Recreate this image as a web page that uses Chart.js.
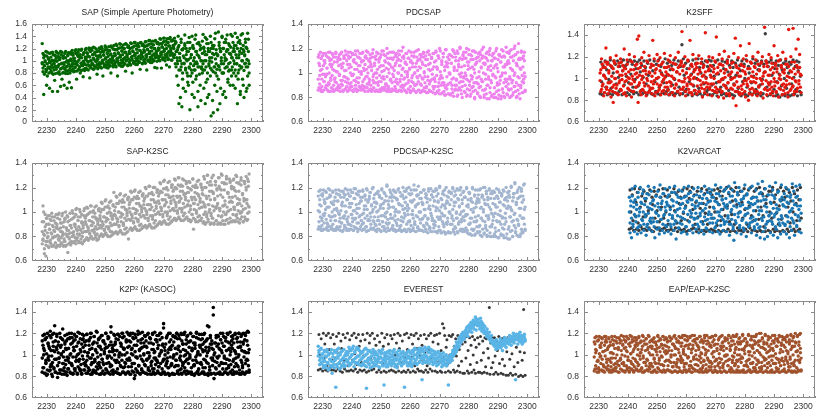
<!DOCTYPE html>
<html><head><meta charset="utf-8">
<script src="https://cdn.jsdelivr.net/npm/chart.js@4.4.1/dist/chart.umd.min.js"></script>
<style>
html,body{margin:0;padding:0;background:#fff;}
body{width:830px;height:415px;position:relative;overflow:hidden;}
.pane{position:absolute;}
</style></head><body>
<div id="wrap"></div>
<script>
// ---- time base (BJD - 2454833) ----
const days=[
2228.5,2228.75,2229,2229.25,2229.5,2229.75,2230,2230.25,2230.5,2230.75,2231,2231.25,2231.5,2231.75,2232,2232.25,2232.5,2232.75,2233,2233.25,
2233.5,2233.75,2234,2234.25,2234.5,2234.75,2235,2235.25,2235.5,2235.75,2236,2236.25,2236.5,2236.75,2237,2237.25,2237.5,2237.75,2238,2238.25,
2238.5,2238.75,2239,2239.25,2239.5,2239.75,2240,2240.25,2240.5,2240.75,2241,2241.25,2241.5,2241.75,2242,2242.25,2242.5,2242.75,2243,2243.25,
2243.5,2243.75,2244,2244.25,2244.5,2244.75,2245,2245.25,2245.5,2245.75,2246,2246.25,2246.5,2246.75,2247,2247.25,2247.5,2247.75,2248,2248.25,
2248.5,2248.75,2249,2249.25,2249.5,2249.75,2250,2250.25,2250.5,2250.75,2251,2251.25,2251.5,2251.75,2252,2252.25,2252.5,2252.75,2253,2253.25,
2253.5,2253.75,2254,2254.25,2254.5,2254.75,2255,2255.25,2255.5,2255.75,2256,2256.25,2256.5,2256.75,2257,2257.25,2257.5,2257.75,2258,2258.25,
2258.5,2258.75,2259,2259.25,2259.5,2259.75,2260,2260.25,2260.5,2260.75,2261,2261.25,2261.5,2261.75,2262,2262.25,2262.5,2262.75,2263,2263.25,
2263.5,2263.75,2264,2264.25,2264.5,2264.75,2265,2265.25,2265.5,2265.75,2266,2266.25,2266.5,2266.75,2267,2267.25,2267.5,2267.75,2268,2268.25,
2268.5,2268.75,2269,2269.25,2269.5,2269.75,2270,2270.25,2270.5,2270.75,2271,2271.25,2271.5,2271.75,2272,2272.25,2272.5,2272.75,2273,2273.25,
2273.5,2273.75,2274,2274.25,2274.5,2274.75,2275,2275.25,2275.5,2275.75,2276,2276.25,2276.5,2276.75,2277,2277.25,2277.5,2277.75,2278,2278.25,
2278.5,2278.75,2279,2279.25,2279.5,2279.75,2280,2280.25,2280.5,2280.75,2281,2281.25,2281.5,2281.75,2282,2282.25,2282.5,2282.75,2283,2283.25,
2283.5,2283.75,2284,2284.25,2284.5,2284.75,2285,2285.25,2285.5,2285.75,2286,2286.25,2286.5,2286.75,2287,2287.25,2287.5,2287.75,2288,2288.25,
2288.5,2288.75,2289,2289.25,2289.5,2289.75,2290,2290.25,2290.5,2290.75,2291,2291.25,2291.5,2291.75,2292,2292.25,2292.5,2292.75,2293,2293.25,
2293.5,2293.75,2294,2294.25,2294.5,2294.75,2295,2295.25,2295.5,2295.75,2296,2296.25,2296.5,2296.75,2297,2297.25,2297.5,2297.75,2298,2298.25,
2298.5,2298.75,2299,2299.25];

// ---- tick labels ----
const xTicks=[2230,2240,2250,2260,2270,2280,2290,2300];
const yTicksSAP=[0,0.2,0.4,0.6,0.8,1,1.2,1.4,1.6];
const yTicksStd=[0.6,0.8,1,1.2,1.4];

// ---- SAP ----
const sapA=[
1.28,1.12,0.45,0.92,1.08,0.82,0.6,1.14,0.88,1.02,0.55,0.97,1.13,0.8,0.5,1.1,0.85,1.0,0.79,1.15,
0.9,0.5,1.12,0.82,1.05,0.58,0.95,1.14,0.8,1.08,0.6,0.88,1.15,0.83,1.0,0.79,1.13,0.65,0.92,1.11,
0.56,1.17,0.86,1.04,0.83,1.16,0.95,0.7,1.1,0.85,1.18,0.9,1.05,0.84,1.19,0.92,0.74,1.13,0.87,1.02,
1.2,0.86,1.07,0.93,1.21,0.72,1.0,0.88,1.17,0.95,1.22,0.87,1.11,0.9,1.19,0.78,1.04,0.89,1.21,0.96,
0.9,1.23,1.0,0.75,1.15,0.92,1.24,1.05,0.89,1.18,0.97,1.23,0.91,1.1,0.8,1.22,1.02,0.93,1.25,1.08,
0.92,1.27,1.03,0.75,1.2,0.95,1.28,1.09,0.91,1.22,1.0,1.26,0.94,1.14,0.83,1.27,1.06,0.93,1.24,1.12,
0.95,1.29,1.06,0.8,1.22,0.98,1.3,1.12,0.94,1.25,1.03,1.28,0.97,1.17,0.86,1.3,1.09,0.96,1.27,1.14,
0.98,1.31,1.09,0.85,1.25,1.01,1.33,1.15,0.97,1.28,1.05,1.32,1.0,1.2,0.89,1.33,1.11,0.99,1.3,1.17,
1.01,1.36,1.12,0.88,1.28,1.04,1.37,1.19,1.0,1.32,1.08,1.36,1.02,1.24,0.9,1.38,1.14,1.01,1.34,1.22,
1.05,1.37,0.95,1.3,0.75,1.18,1.4,0.3,1.05,0.85,1.35,0.25,0.7,1.2,0.95,1.42,0.5,1.1,0.8,1.3,
0.6,1.38,0.2,1.05,0.85,1.4,0.65,1.2,0.4,0.95,1.42,0.75,1.1,0.5,1.3,0.9,1.25,0.35,1.0,0.8,
1.43,0.55,1.15,0.3,0.9,1.35,0.7,1.2,0.45,1.0,1.4,0.1,0.85,1.25,0.15,1.1,0.6,1.45,0.95,0.75,
0.2,1.47,0.9,1.2,0.55,1.05,1.38,0.45,0.8,1.3,1.0,0.4,1.15,1.42,0.7,0.95,1.25,0.6,1.1,0.85,
1.4,0.6,1.2,0.95,1.45,0.75,1.05,0.3,1.3,0.85,1.15,0.5,1.42,1.0,0.7,1.25,0.4,1.1,1.35,0.9,
0.55,1.45,1.0,0.8];
const sapB=[
0.95,0.82,1.1,0.78,0.98,1.15,0.85,0.75,1.05,0.8,1.12,0.9,0.83,1.0,1.14,0.78,0.95,0.68,1.08,0.86,
1.13,0.8,0.92,1.02,0.78,1.15,0.87,0.7,1.06,0.81,0.97,1.12,0.79,0.9,0.55,1.1,0.84,1.0,0.8,1.14,
0.84,0.95,1.12,0.82,1.0,0.9,1.18,0.83,0.98,1.14,0.86,1.06,0.8,1.17,0.93,0.85,1.1,0.97,0.84,1.18,
0.88,1.13,0.99,0.85,1.18,1.06,0.89,1.2,0.94,1.1,0.86,1.02,1.21,0.9,0.99,1.15,0.87,1.08,0.93,1.2,
1.14,0.88,1.2,0.97,1.09,0.9,1.03,1.22,0.93,1.12,0.88,1.0,1.16,0.92,1.24,0.98,1.07,0.9,1.19,0.95,
1.18,0.9,1.25,1.0,1.12,0.93,1.06,1.27,0.96,1.16,0.91,1.03,1.2,0.95,1.28,1.01,1.1,0.92,1.22,0.98,
1.2,0.93,1.28,1.03,1.15,0.96,1.09,1.3,0.99,1.19,0.94,1.06,1.23,0.98,1.29,1.04,1.13,0.95,1.25,1.01,
1.23,0.96,1.31,1.06,1.18,0.99,1.12,1.33,1.02,1.22,0.97,1.09,1.26,1.0,1.32,1.07,1.16,0.88,1.28,1.04,
1.27,1.0,1.35,1.1,1.22,1.02,1.15,1.37,1.05,1.26,0.93,1.12,1.3,1.03,1.36,1.1,1.2,1.01,1.33,1.08,
1.25,1.1,1.32,0.9,1.15,1.0,0.6,1.25,1.12,0.4,1.3,0.95,1.18,0.55,1.05,1.28,0.85,1.2,1.0,0.65,
1.15,0.9,1.3,0.75,1.1,0.45,1.22,1.0,0.85,1.35,0.7,1.15,0.95,0.25,1.28,1.05,0.6,1.2,0.9,1.32,
0.85,1.2,1.0,1.38,0.65,1.1,0.4,1.28,0.95,1.15,0.75,1.3,1.05,0.35,1.2,0.9,1.36,0.8,1.12,0.5,
1.1,0.7,1.3,0.3,1.15,0.95,1.4,0.8,1.2,0.5,1.05,1.35,0.9,1.18,0.65,1.28,0.85,1.12,1.43,0.75,
1.05,1.3,0.8,1.15,0.55,1.25,0.95,1.38,0.7,1.1,1.33,0.45,1.2,0.9,1.44,0.6,1.15,0.95,1.3,0.5,
1.2,0.75,1.35,0.6];
const sapC=[
0.97,0.88,1.05,0.92,1.0,0.86,1.08,0.95,0.9,1.03,0.98,0.87,1.06,0.93,1.01,0.89,0.96,1.09,0.91,1.04,
0.99,0.9,1.07,0.94,1.02,0.87,1.1,0.96,0.89,1.04,0.93,0.86,1.05,0.98,0.91,1.08,0.95,1.0,0.88,1.03,
1.0,0.91,1.09,0.95,1.04,0.89,1.12,0.98,0.93,1.07,1.01,0.9,1.1,0.96,1.05,0.92,0.99,1.13,0.94,1.06,
1.03,0.93,1.12,0.98,1.07,0.91,1.15,1.0,0.95,1.1,1.04,0.92,1.14,0.99,1.08,0.94,1.02,1.16,0.97,1.09,
1.06,0.96,1.15,1.01,1.1,0.94,1.18,1.03,0.98,1.13,1.07,0.95,1.17,1.02,1.11,0.97,1.05,1.19,1.0,1.12,
1.09,0.98,1.18,1.04,1.13,0.96,1.21,1.06,1.01,1.16,1.1,0.97,1.2,1.05,1.14,1.0,1.08,1.22,1.03,1.15,
1.12,1.01,1.21,1.07,1.16,0.99,1.24,1.09,1.04,1.19,1.13,1.0,1.23,1.08,1.17,1.03,1.11,1.25,1.06,1.18,
1.15,1.03,1.24,1.1,1.19,1.01,1.27,1.12,1.06,1.22,1.16,1.02,1.26,1.11,1.2,1.05,1.14,1.28,1.08,1.21,
1.19,1.07,1.28,1.14,1.23,1.05,1.31,1.16,1.1,1.26,1.2,1.06,1.3,1.15,1.24,1.09,1.18,1.32,1.12,1.25,
1.2,1.1,1.28,1.15,1.05,0.95,1.22,0.85,1.12,1.0,0.9,1.18,0.8,1.08,0.96,1.25,0.88,1.02,1.15,0.75,
1.02,0.88,1.2,0.95,1.1,0.8,1.25,0.92,1.05,0.85,1.15,0.98,1.28,0.9,1.08,0.78,1.18,1.0,0.87,1.12,
0.95,1.22,0.85,1.1,1.0,1.28,0.8,1.15,0.92,1.05,0.88,1.2,0.98,1.12,0.82,1.25,0.9,1.03,1.18,0.86,
1.08,0.92,1.25,0.85,1.15,1.0,0.8,1.2,0.95,1.1,0.88,1.3,1.02,0.9,1.18,0.83,1.12,0.97,1.22,1.05,
0.9,1.15,1.0,1.25,0.85,1.1,0.95,1.2,0.8,1.05,0.92,1.28,0.88,1.12,1.0,1.18,0.84,1.08,0.96,1.22,
1.02,0.9,1.15,0.95];

// ---- PDCSAP ----
const pdcA=[
0.86,1.15,0.98,0.87,1.12,1.03,0.85,1.16,0.93,1.08,0.88,1.14,0.99,0.86,1.17,0.91,1.1,0.85,1.05,1.16,
0.87,1.13,0.95,0.86,1.16,1.01,0.88,1.11,0.9,1.15,0.85,1.07,1.17,0.94,0.86,1.12,1.02,0.87,1.15,0.96,
0.85,1.17,1.04,0.88,1.13,0.92,0.86,1.16,0.99,1.09,0.87,1.15,0.93,0.85,1.18,1.06,0.89,1.12,0.86,1.01,
1.16,0.87,1.1,0.95,0.85,1.14,1.03,0.88,1.17,0.91,0.86,1.12,1.07,0.85,1.16,0.97,0.88,1.13,1.0,0.86,
1.17,0.92,0.85,1.11,1.05,0.87,1.15,0.96,0.86,1.18,1.02,0.88,1.14,0.9,0.85,1.16,1.08,0.87,1.12,0.94,
0.85,1.17,0.99,0.86,1.13,1.06,0.87,1.16,0.92,0.85,1.11,1.15,0.95,0.86,1.18,1.03,0.88,1.14,0.9,1.09,
0.85,1.16,0.97,0.87,1.12,1.04,0.84,1.17,0.93,1.08,0.86,1.14,1.0,0.85,1.18,0.91,1.1,0.86,1.05,1.15,
0.84,1.13,0.96,0.86,1.16,1.01,0.85,1.11,0.89,1.17,0.84,1.07,1.15,0.93,0.85,1.12,1.03,0.84,1.16,0.95,
0.83,1.17,1.05,0.85,1.14,0.92,0.83,1.18,0.98,1.09,0.84,1.16,0.9,0.82,1.19,1.06,0.87,1.13,0.83,1.0,
1.15,0.82,1.08,0.95,0.84,1.18,1.02,0.86,1.13,0.9,0.81,1.16,1.05,0.88,1.2,0.97,0.83,1.11,0.93,1.17,
0.85,1.0,1.17,0.81,1.09,0.94,1.19,0.86,1.04,0.83,1.14,0.97,0.89,1.18,0.8,1.07,1.12,0.92,0.84,1.16,
1.01,0.81,1.15,0.95,1.19,0.86,1.08,0.8,1.13,0.99,0.83,1.17,0.9,1.05,0.79,1.2,0.94,1.1,0.82,1.16,
0.8,1.12,0.97,1.18,0.85,1.04,0.79,1.15,0.91,1.09,0.81,1.19,1.0,0.84,1.14,0.8,1.07,0.93,1.17,0.82,
1.1,0.86,1.18,0.95,0.81,1.13,1.02,0.84,1.2,0.89,1.15,0.8,1.06,0.97,1.24,0.83,1.11,0.88,1.17,0.93,
0.84,1.14,1.0,0.86];
const pdcB=[
1.13,0.88,1.06,1.17,0.85,0.95,1.14,0.86,1.1,0.99,1.16,0.87,1.04,0.9,0.85,1.12,1.17,0.96,0.88,1.07,
1.15,0.85,1.02,0.93,1.17,0.87,1.09,0.86,1.13,0.98,0.88,1.16,0.91,1.05,0.85,1.14,0.97,1.18,0.87,1.1,
0.92,1.14,0.86,1.07,1.17,0.89,0.98,1.15,0.85,1.11,0.94,1.18,0.87,1.03,0.86,1.13,0.96,1.16,0.88,1.09,
0.9,1.17,0.86,1.02,1.13,0.88,1.18,0.97,0.85,1.1,0.93,1.15,0.87,1.05,0.86,1.19,0.92,1.08,0.85,1.14,
1.0,0.86,1.16,0.93,1.12,0.85,1.06,1.18,0.88,0.97,1.15,0.86,1.09,0.91,1.2,0.87,1.03,0.85,1.17,0.95,
1.12,0.87,1.04,1.17,0.86,0.93,1.15,0.85,1.1,1.0,1.18,0.86,1.06,0.89,0.85,1.13,1.21,0.95,0.86,1.08,
1.16,0.84,1.01,0.92,1.18,0.86,1.09,0.85,1.14,0.98,0.87,1.17,0.9,1.05,0.84,1.13,0.96,1.19,0.86,1.11,
0.91,1.15,0.85,1.07,1.17,0.88,0.97,1.14,0.84,1.11,0.94,1.18,0.86,1.02,0.85,1.13,0.95,1.16,0.87,1.09,
0.89,1.18,0.84,1.03,1.14,0.86,1.2,0.96,0.83,1.1,0.92,1.16,0.85,1.05,0.82,1.19,0.9,1.08,0.83,1.15,
0.99,0.83,1.14,0.9,1.19,0.81,1.05,1.16,0.87,0.95,1.18,0.82,1.1,0.92,1.21,0.86,1.0,0.8,1.15,0.96,
1.12,0.84,0.98,1.2,0.82,1.06,1.15,0.9,0.81,1.11,0.95,1.18,0.85,1.03,0.79,1.17,0.92,1.09,0.83,1.13,
0.88,1.17,0.8,1.04,1.12,0.93,1.21,0.82,1.07,0.87,1.16,0.79,1.1,0.95,1.18,0.84,1.02,0.81,1.14,0.98,
1.16,0.83,1.06,0.8,1.2,0.92,1.11,0.82,1.15,0.97,0.79,1.13,0.87,1.18,0.81,1.05,0.95,1.21,0.83,1.09,
0.87,1.16,0.8,1.04,1.19,0.92,0.82,1.14,0.98,1.22,0.85,1.08,0.81,1.17,0.9,1.12,0.79,1.03,1.18,0.84,
1.12,0.95,1.17,0.85];
const pdcC=[
0.95,1.08,0.91,1.02,1.12,0.89,0.99,1.06,0.93,1.1,0.97,0.9,1.04,1.13,0.92,1.0,1.07,0.94,1.11,0.98,
1.03,0.9,1.09,0.96,1.13,0.92,1.01,0.88,1.06,0.99,1.11,0.94,1.04,0.9,1.08,0.97,1.12,0.93,1.02,0.89,
1.07,0.95,1.12,0.91,1.0,1.05,0.89,0.98,1.1,0.94,1.03,0.9,1.08,0.96,1.13,0.92,1.01,1.06,0.88,0.99,
1.1,0.93,1.04,0.89,1.07,0.97,1.12,0.91,1.0,1.05,0.95,1.09,0.9,1.02,1.13,0.94,0.99,1.06,0.92,1.11,
0.96,1.03,0.9,1.09,0.98,1.13,0.93,1.01,0.88,1.06,0.95,1.1,0.91,1.04,0.97,1.12,0.89,1.0,1.07,0.94,
1.05,0.92,1.11,0.97,1.02,0.89,1.08,0.95,1.13,0.91,1.0,1.06,0.93,1.1,0.98,0.9,1.04,1.12,0.96,1.01,
0.91,1.07,0.99,1.12,0.94,1.03,0.89,1.1,0.96,1.05,0.92,1.13,1.0,0.9,1.08,0.97,1.02,0.93,1.11,0.98,
1.04,0.9,1.09,0.95,1.13,1.0,0.92,1.06,0.88,1.11,0.97,1.03,0.91,1.08,0.94,1.12,0.99,0.89,1.05,0.96,
0.93,1.1,0.98,1.04,0.89,1.12,0.95,1.01,0.9,1.07,0.96,1.13,0.92,1.02,0.88,1.09,0.97,1.05,0.91,1.11,
1.0,0.92,1.08,0.87,1.13,0.96,1.04,0.9,1.1,0.94,1.02,0.86,1.07,0.99,1.12,0.93,1.05,0.89,1.14,0.97,
1.06,0.9,1.12,0.95,0.87,1.03,1.09,0.93,1.15,0.98,0.88,1.05,1.11,0.92,1.0,0.86,1.08,0.96,1.13,0.91,
0.97,1.1,0.89,1.05,0.93,1.14,1.0,0.86,1.08,0.95,1.12,0.9,1.03,0.97,1.15,0.88,1.06,0.92,1.1,0.99,
1.04,0.88,1.12,0.96,1.07,0.9,1.01,0.86,1.14,0.94,1.09,0.98,0.87,1.05,0.92,1.13,1.0,0.89,1.07,0.95,
0.91,1.08,0.97,1.13,0.87,1.03,0.94,1.1,0.89,1.0,1.15,0.92,1.06,0.86,1.11,0.96,1.04,0.9,1.12,0.98,
1.05,0.92,1.1,0.97];

// ---- K2SFF (from 2230.5) ----
const sffBlack=[
0.86,1.15,0.97,0.85,1.12,1.03,0.87,1.16,0.92,1.08,0.85,1.14,
0.99,0.86,1.17,0.91,1.1,0.85,1.05,1.16,0.87,1.13,0.95,0.86,1.16,1.01,0.88,1.11,0.9,1.15,0.85,1.07,
1.17,0.94,0.86,1.12,1.02,0.87,1.15,0.96,0.85,1.17,1.04,0.88,1.13,0.92,0.86,1.16,0.99,1.09,0.87,1.15,
0.93,0.85,1.17,1.06,0.89,1.12,0.86,1.01,1.16,0.87,1.1,0.95,0.85,1.14,1.03,0.88,1.17,0.91,0.86,1.12,
1.07,0.85,1.16,0.97,0.88,1.13,1.0,0.86,1.17,0.92,0.85,1.11,1.05,0.87,1.15,0.96,0.86,1.18,1.02,0.88,
1.14,0.9,0.85,1.16,1.08,0.87,1.12,0.94,0.85,1.17,0.99,0.86,1.13,1.06,0.87,1.16,0.92,0.85,1.11,1.15,
1.31,0.86,1.18,1.03,0.88,1.14,0.9,1.09,0.85,1.16,0.97,0.87,1.12,1.04,0.84,1.17,0.93,1.08,0.86,1.14,
1.0,0.85,1.18,0.91,1.1,0.86,1.05,1.15,0.84,1.13,0.95,0.86,1.16,1.01,0.88,1.11,0.9,1.17,0.85,1.07,
1.16,0.94,0.85,1.12,1.02,0.87,1.15,0.96,0.84,1.17,1.04,0.88,1.13,0.92,0.85,1.16,0.99,1.09,0.86,1.15,
0.93,0.84,1.17,1.06,0.89,1.12,0.86,1.01,1.16,0.85,1.1,0.95,0.84,1.14,1.03,0.88,1.17,0.91,0.86,1.12,
1.07,0.84,1.16,0.97,0.86,1.13,1.0,0.85,1.17,0.92,0.84,1.11,1.05,0.87,1.15,0.96,0.85,1.18,1.02,0.87,
1.14,0.9,0.85,1.16,1.08,0.86,1.12,0.94,0.84,1.16,0.99,0.86,1.13,1.06,1.41,1.16,0.92,0.84,1.11,1.15,
0.95,0.85,1.17,1.03,0.87,1.14,0.9,1.09,0.84,1.16,0.97,0.85,1.12,1.04,0.83,1.17,0.93,1.08,0.85,1.14,
1.0,0.84,1.16,0.91,1.1,0.85,1.05,1.15,0.84,1.13,0.95,0.85,1.17,1.01,0.86,1.11,0.9,1.16,0.84,1.07,
1.15,0.88,1.02,0.85];
const sffRed=[
1.05,0.88,1.18,0.93,1.1,0.84,1.02,1.15,1.28,0.9,1.13,0.86,
1.07,0.96,1.19,0.83,1.11,0.92,0.78,1.16,1.0,0.87,1.21,0.94,1.06,0.85,1.14,0.98,1.18,0.89,1.03,1.12,
0.86,1.27,0.97,1.09,0.84,1.17,1.01,0.9,1.22,0.95,1.08,0.83,1.15,0.99,0.88,1.2,1.04,0.92,1.13,1.36,
0.78,1.39,0.96,1.1,0.85,1.19,1.02,0.89,1.24,0.93,1.07,0.84,1.16,0.98,0.87,1.21,1.05,0.91,1.13,0.86,
1.35,0.95,1.18,0.84,1.08,1.0,1.22,0.88,1.12,0.93,1.19,0.85,1.04,0.97,1.15,0.89,1.23,1.01,0.86,1.1,
0.92,1.17,1.03,0.85,1.21,0.96,1.09,0.87,1.14,1.0,0.84,1.19,0.94,1.06,0.88,1.24,0.98,1.12,0.86,1.16,
1.43,0.9,1.11,0.97,1.2,0.84,1.05,0.93,1.17,1.01,0.87,1.35,0.95,1.13,0.85,1.22,1.0,0.89,1.08,1.18,
0.86,1.14,0.99,1.21,0.88,1.06,0.94,1.18,0.83,1.1,1.03,0.9,1.42,0.96,1.16,0.85,1.07,1.2,0.92,1.12,
1.01,0.84,1.19,0.95,1.09,0.88,1.15,1.38,0.9,1.05,0.83,1.22,0.97,1.13,0.87,1.18,1.0,0.82,1.25,0.93,
1.08,0.86,1.16,0.96,1.2,0.84,1.04,0.91,1.14,1.0,0.82,1.23,0.94,1.37,0.75,1.1,0.88,1.19,1.02,0.85,
1.3,0.93,1.12,0.86,1.18,0.98,1.06,0.83,1.21,0.95,1.09,0.8,1.32,0.9,1.15,1.02,0.85,1.2,0.97,1.11,
0.87,1.17,1.0,0.84,1.24,0.93,1.08,0.86,1.14,0.98,1.2,0.82,1.05,1.47,0.91,1.16,0.85,1.11,0.96,1.22,
1.03,0.86,1.19,0.92,1.1,0.84,1.3,0.97,1.14,0.88,1.06,1.21,0.83,1.0,1.17,0.9,1.12,0.85,1.24,0.95,
1.08,0.86,1.18,0.94,1.13,0.83,1.45,1.01,0.89,1.2,1.06,0.92,1.46,0.85,1.15,0.98,1.27,0.88,1.1,1.36,
0.95,1.22,1.04,0.87];
const sffRed2=[
0.98,1.08,0.9,1.13,0.95,1.03,0.87,1.1,1.0,0.92,1.15,0.96,
1.05,0.89,1.12,0.97,1.02,0.88,1.09,0.94,1.14,1.0,0.91,1.06,0.86,1.11,0.96,1.03,0.9,1.15,0.99,1.07,
0.93,1.1,0.87,1.04,0.98,1.13,0.91,1.06,1.0,0.89,1.16,0.95,1.02,0.88,1.08,0.97,1.12,0.92,1.05,1.01,
1.09,0.94,1.03,0.88,1.14,0.99,0.9,1.07,0.96,1.11,0.87,1.04,1.0,1.15,0.93,1.06,0.89,1.1,0.97,1.02,
0.91,1.12,0.98,1.05,0.87,1.09,0.95,1.16,1.01,0.9,1.07,0.94,1.13,0.88,1.03,0.99,1.1,0.92,1.06,0.96,
1.04,0.89,1.11,0.97,1.15,0.93,1.02,0.87,1.08,1.0,0.91,1.13,0.95,1.06,0.88,1.1,0.98,1.04,0.9,1.14,
0.97,1.07,0.92,1.12,1.0,0.88,1.05,0.95,1.16,0.9,1.09,0.99,1.03,0.87,1.11,0.94,1.06,1.01,0.89,1.13,
1.1,0.93,1.04,0.88,1.08,0.98,1.14,0.91,1.02,0.96,1.12,0.87,1.06,1.0,0.92,1.15,0.95,1.09,0.9,1.03,
0.95,1.11,0.89,1.06,1.0,1.16,0.92,1.04,0.87,1.1,0.97,1.13,0.9,1.07,0.99,0.88,1.12,0.94,1.05,1.01,
1.08,0.91,1.14,0.96,1.03,0.86,1.1,0.99,1.06,0.9,1.15,0.94,1.01,0.88,1.12,0.97,1.05,0.92,1.09,0.87,
1.02,1.13,0.9,1.07,0.95,1.11,0.88,1.04,0.98,1.16,0.93,1.0,0.86,1.09,0.97,1.14,0.91,1.06,1.01,0.89,
1.1,0.96,1.04,0.88,1.13,0.92,1.07,1.0,0.87,1.15,0.95,1.02,1.11,0.9,1.06,0.98,1.14,0.89,1.03,0.94,
0.9,1.08,0.97,1.14,0.88,1.05,1.0,0.93,1.12,0.87,1.09,0.96,1.16,0.91,1.03,0.99,1.1,0.94,1.06,0.89,
1.05,0.92,1.13,0.98,1.02,0.87,1.11,0.95,1.07,0.9,1.15,1.0,0.93,1.09,0.88,1.04,0.97,1.12,0.91,1.06,
0.98,1.1,0.92,1.03];

// ---- SAP-K2SC ----
const skA=[
0.74,1.05,0.82,0.66,0.98,0.73,0.9,0.76,0.97,0.71,0.86,0.94,0.74,0.99,0.79,0.72,0.93,0.84,0.75,0.98,
0.72,0.95,0.78,0.99,0.73,0.87,0.74,0.97,0.81,0.72,0.92,0.76,1.0,0.73,0.85,0.96,0.74,0.79,0.99,0.73,
0.76,1.01,0.83,0.75,0.96,0.88,0.74,1.03,0.79,0.93,0.76,1.02,0.86,0.75,0.98,0.8,0.91,0.76,1.03,0.84,
0.78,1.04,0.88,0.77,0.99,0.83,0.79,1.05,0.92,0.78,1.01,0.86,0.96,0.79,1.05,0.82,0.94,0.78,1.03,0.89,
0.81,1.08,0.92,0.8,1.02,0.86,0.82,1.1,0.95,0.81,1.05,0.88,1.0,0.8,1.09,0.84,0.97,0.82,1.16,0.9,
0.83,1.13,0.95,0.82,1.07,0.89,0.84,1.15,0.99,0.83,1.1,0.91,1.04,0.82,1.14,0.87,1.01,0.84,1.12,0.94,
0.86,1.17,0.98,0.85,1.1,0.92,0.87,1.18,1.02,0.86,1.13,0.94,1.07,0.85,1.17,0.9,1.04,0.87,1.15,0.97,
0.88,1.2,1.01,0.87,1.13,0.95,0.89,1.21,1.06,0.88,1.16,0.97,1.1,0.87,1.2,0.93,1.08,0.89,1.18,1.0,
0.91,1.24,1.04,0.9,1.16,0.98,0.92,1.26,1.1,0.91,1.2,1.0,1.14,0.9,1.25,0.96,1.12,0.92,1.22,1.03,
0.94,1.27,1.08,0.93,1.19,1.01,0.95,1.28,1.13,0.94,1.22,1.03,1.17,0.93,1.26,0.99,1.15,0.95,1.24,1.06,
0.93,1.25,1.05,0.92,1.18,0.98,1.27,0.86,1.12,0.94,1.22,1.01,1.15,0.92,1.26,0.97,1.09,0.93,1.2,1.04,
0.91,1.29,1.06,0.9,1.2,0.98,1.3,0.92,1.13,1.02,1.25,0.91,1.17,0.95,1.3,0.9,1.1,1.22,0.93,1.05,
0.9,1.28,1.03,1.19,0.91,1.31,0.97,1.12,0.9,1.24,1.06,0.93,1.29,1.0,1.16,0.91,1.27,0.95,1.09,1.21,
0.92,1.26,1.04,1.18,0.93,1.3,0.98,1.11,0.92,1.23,1.07,0.94,1.28,1.0,1.15,0.92,1.25,0.96,1.1,1.29,
0.93,1.27,1.05,1.31];
const skB=[
0.92,0.77,1.0,0.7,0.85,0.64,0.95,0.79,0.72,0.9,0.97,0.75,0.83,0.72,0.96,0.88,0.73,0.8,0.91,0.71,
0.88,0.73,0.98,0.8,0.72,0.91,0.75,0.84,0.99,0.73,0.78,0.94,0.72,0.87,0.97,0.67,0.82,0.93,0.75,0.89,
0.94,0.75,0.99,0.81,0.76,0.9,1.02,0.77,0.85,0.96,0.75,0.82,1.0,0.78,0.92,0.74,0.87,1.01,0.77,0.95,
0.97,0.79,1.03,0.85,0.78,0.93,1.05,0.8,0.89,1.0,0.78,0.84,1.04,0.81,0.95,0.77,0.9,1.02,0.8,0.97,
1.0,0.82,1.07,0.89,0.81,0.96,1.09,0.83,0.93,1.04,0.8,0.87,1.08,0.84,0.99,0.81,0.94,1.06,0.83,1.01,
1.04,0.84,1.12,0.92,0.83,1.0,1.14,0.85,0.96,1.08,0.82,0.9,1.13,0.86,1.02,0.83,0.97,1.11,0.78,1.06,
1.08,0.87,1.16,0.95,0.86,1.03,1.17,0.88,0.99,1.11,0.85,0.93,1.16,0.89,1.05,0.86,1.0,1.14,0.88,1.09,
1.11,0.89,1.19,0.98,0.88,1.06,1.21,0.9,1.02,1.15,0.87,0.96,1.2,0.91,1.08,0.88,1.03,1.18,0.9,1.13,
1.15,0.92,1.23,1.01,0.91,1.1,1.25,0.93,1.06,1.19,0.9,0.99,1.24,0.94,1.12,0.91,1.07,1.22,0.93,1.17,
1.18,0.95,1.26,1.04,0.94,1.12,1.28,0.96,1.09,1.21,0.93,1.02,1.27,0.97,1.14,0.94,1.1,1.25,0.96,1.2,
1.16,0.94,1.24,1.02,0.93,1.1,1.27,0.95,1.07,1.2,0.92,1.0,1.25,0.96,1.13,0.93,1.08,1.23,0.95,1.18,
1.14,0.92,1.27,1.0,0.91,1.11,1.3,0.94,1.06,1.22,0.9,0.99,1.28,0.95,1.16,0.91,1.04,1.25,0.93,1.19,
1.13,0.91,1.28,1.01,0.9,1.18,1.3,0.93,1.05,1.23,0.9,0.98,1.27,0.94,1.15,0.91,1.08,1.24,0.92,1.2,
1.12,0.93,1.27,1.02,0.92,1.17,1.29,0.95,1.07,1.24,0.91,1.0,1.26,0.96,1.14,0.92,1.09,1.23,0.94,1.2,
1.1,0.94,1.25,1.0];
const skC=[
0.84,0.78,0.92,0.81,0.88,0.76,0.95,0.83,0.8,0.9,0.86,0.77,0.93,0.82,0.89,0.79,0.85,0.96,0.8,0.87,
0.9,0.81,0.86,0.77,0.94,0.84,0.79,0.91,0.83,0.88,0.76,0.95,0.82,0.87,0.8,0.92,0.85,0.78,0.89,0.83,
0.87,0.8,0.95,0.84,0.9,0.79,0.98,0.86,0.82,0.93,0.88,0.81,0.96,0.85,0.91,0.83,0.89,0.97,0.84,0.92,
0.9,0.84,0.98,0.87,0.93,0.82,1.0,0.89,0.85,0.96,0.91,0.83,0.99,0.88,0.94,0.86,0.92,1.01,0.87,0.95,
0.93,0.87,1.02,0.9,0.96,0.85,1.04,0.92,0.88,0.99,0.94,0.86,1.03,0.91,0.97,0.89,0.95,1.05,0.9,0.98,
0.97,0.9,1.07,0.94,1.0,0.88,1.09,0.96,0.92,1.04,0.98,0.89,1.08,0.95,1.02,0.93,0.99,1.1,0.94,1.03,
1.0,0.93,1.1,0.97,1.03,0.91,1.12,0.99,0.95,1.07,1.01,0.92,1.11,0.98,1.05,0.96,1.02,1.13,0.97,1.06,
1.03,0.95,1.13,1.0,1.06,0.93,1.15,1.02,0.97,1.1,1.04,0.94,1.14,1.01,1.08,0.98,1.05,1.16,0.99,1.09,
1.07,0.98,1.17,1.03,1.1,0.96,1.19,1.05,1.0,1.14,1.08,0.97,1.18,1.04,1.12,1.01,1.09,1.2,1.02,1.13,
1.1,1.01,1.2,1.06,1.13,0.99,1.22,1.08,1.03,1.17,1.11,1.0,1.21,1.07,1.15,1.04,1.12,1.23,1.05,1.16,
1.09,1.0,1.19,1.05,1.12,0.98,1.21,1.07,1.02,1.16,1.1,0.99,1.2,1.06,1.14,1.03,1.11,1.22,1.04,1.15,
1.08,0.98,1.2,1.04,1.13,0.96,1.24,1.06,1.0,1.17,1.1,0.97,1.22,1.05,1.15,1.01,1.11,1.25,1.03,1.18,
1.07,0.97,1.21,1.03,1.14,0.96,1.24,1.05,1.0,1.18,1.09,0.98,1.23,1.04,1.16,1.01,1.12,1.25,1.02,1.19,
1.08,0.98,1.2,1.04,1.13,0.97,1.24,1.06,1.01,1.17,1.1,0.99,1.22,1.05,1.15,1.02,1.11,1.25,1.03,1.18,
1.07,0.99,1.21,1.04];

// ---- PDCSAP-K2SC ----
const pkA=[
0.86,1.17,1.0,0.87,1.14,0.93,0.85,1.18,0.97,1.08,0.86,1.16,0.91,0.85,1.19,1.04,0.88,1.13,0.86,0.96,
1.17,0.86,1.09,0.97,0.85,1.15,1.01,0.87,1.18,0.92,0.85,1.12,1.06,0.84,1.17,0.95,0.87,1.14,1.0,0.85,
1.18,0.9,0.85,1.13,1.04,0.86,1.16,0.95,0.85,1.19,1.01,0.87,1.15,0.91,0.84,1.17,1.07,0.86,1.12,0.93,
0.85,1.17,0.99,0.86,1.13,1.05,0.84,1.18,0.93,0.85,1.11,1.16,0.96,0.86,1.19,1.02,0.87,1.14,0.9,1.08,
0.84,1.16,0.96,0.86,1.12,1.03,0.84,1.18,0.92,1.07,0.85,1.15,0.99,0.84,1.22,0.9,1.09,0.85,1.04,1.16,
0.86,1.14,0.95,0.85,1.17,1.0,0.84,1.11,0.89,1.18,0.85,1.06,1.16,0.93,0.84,1.13,1.02,0.85,1.17,0.97,
0.84,1.19,1.05,0.86,1.15,0.92,0.84,1.18,0.98,1.09,0.85,1.22,0.9,0.84,1.18,1.06,0.87,1.14,0.85,1.0,
1.16,0.85,1.08,0.95,0.84,1.18,1.02,0.86,1.14,0.9,0.83,1.17,1.05,0.87,1.19,0.97,0.84,1.12,0.93,1.17,
0.84,1.01,1.18,0.83,1.09,0.94,1.2,0.85,1.04,0.83,1.15,0.97,0.88,1.18,0.83,1.07,1.13,0.92,0.84,1.17,
1.0,0.83,1.16,0.95,1.19,0.86,1.08,0.82,1.14,0.99,0.84,1.18,0.9,1.05,0.85,1.2,0.94,1.1,0.86,1.17,
0.84,1.12,0.97,1.19,0.85,1.04,0.82,1.16,0.91,1.09,0.81,1.2,1.0,0.86,1.14,0.82,1.07,0.93,1.18,0.83,
1.1,0.84,1.19,0.95,0.8,1.13,1.02,0.83,1.2,0.89,1.15,0.81,1.06,0.97,1.18,0.8,1.11,0.88,1.17,0.93,
0.8,1.16,0.99,0.84,1.13,1.04,0.79,1.18,0.92,1.08,0.82,1.15,0.96,0.81,1.17,0.9,1.11,0.79,1.03,1.16,
0.78,1.14,0.96,0.84,1.21,1.01,0.8,1.12,0.89,1.23,0.83,1.07,1.16,0.93,0.8,1.2,1.03,0.82,1.17,0.95,
0.83,1.22,1.02,0.86];
const pkB=[
1.13,0.88,1.06,1.18,0.85,0.95,1.15,0.86,1.1,0.99,1.17,0.87,1.04,0.9,0.85,1.12,1.18,0.96,0.88,1.07,
1.16,0.85,1.02,0.93,1.18,0.87,1.09,0.86,1.14,0.98,0.88,1.17,0.91,1.05,0.85,1.15,0.97,1.19,0.87,1.1,
0.92,1.15,0.86,1.07,1.18,0.89,0.98,1.16,0.85,1.11,0.94,1.19,0.87,1.03,0.86,1.14,0.96,1.17,0.88,1.09,
0.9,1.18,0.86,1.02,1.14,0.88,1.19,0.97,0.85,1.1,0.93,1.16,0.87,1.05,0.86,1.2,0.92,1.08,0.85,1.15,
1.0,0.86,1.17,0.93,1.13,0.85,1.06,1.19,0.88,0.97,1.16,0.86,1.09,0.91,1.21,0.87,1.03,0.85,1.18,0.95,
1.12,0.87,1.04,1.18,0.86,0.93,1.16,0.85,1.1,1.0,1.19,0.86,1.06,0.89,0.85,1.14,1.2,0.95,0.86,1.08,
1.17,0.84,1.01,0.92,1.2,0.86,1.09,0.85,1.15,0.98,0.87,1.18,0.9,1.05,0.84,1.14,0.96,1.21,0.86,1.11,
0.91,1.16,0.85,1.07,1.18,0.88,0.97,1.15,0.84,1.11,0.94,1.19,0.86,1.02,0.84,1.14,0.95,1.17,0.87,1.09,
0.89,1.19,0.84,1.03,1.15,0.85,1.21,0.96,0.83,1.1,0.92,1.17,0.84,1.05,0.82,1.2,0.9,1.08,0.83,1.16,
0.99,0.83,1.15,0.9,1.2,0.84,1.05,1.17,0.87,0.95,1.19,0.83,1.1,0.92,1.18,0.86,1.0,0.84,1.16,0.96,
1.12,0.85,0.98,1.2,0.83,1.06,1.16,0.9,0.82,1.11,0.95,1.19,0.85,1.03,0.81,1.18,0.92,1.09,0.84,1.14,
0.88,1.18,0.81,1.04,1.12,0.93,1.2,0.82,1.07,0.87,1.17,0.8,1.1,0.95,1.19,0.83,1.02,0.8,1.15,0.98,
1.17,0.82,1.06,0.8,1.19,0.92,1.11,0.79,1.16,0.97,0.81,1.13,0.87,1.18,0.79,1.05,0.95,1.2,0.82,1.09,
0.86,1.17,0.78,1.04,1.2,0.92,0.8,1.15,0.98,1.24,0.84,1.08,0.81,1.18,0.9,1.12,0.8,1.03,1.19,0.84,
1.13,0.95,1.23,0.85];
const pkC=[
1.01,0.92,1.1,0.96,1.05,0.89,1.13,0.98,0.91,1.07,1.02,0.94,1.11,0.88,1.04,0.97,1.14,0.93,1.08,1.0,
0.9,1.06,0.97,1.12,0.93,1.03,0.88,1.09,0.99,1.14,0.95,1.01,0.91,1.08,0.96,1.12,0.89,1.05,1.0,0.94,
1.1,0.96,1.04,0.9,1.13,0.98,1.07,0.92,1.01,0.88,1.11,0.95,1.06,0.99,1.14,0.91,1.03,0.97,1.09,0.93,
0.98,1.12,0.91,1.05,0.95,1.1,0.88,1.02,1.08,0.94,1.13,0.99,0.9,1.06,1.0,0.93,1.11,0.96,1.04,0.89,
1.07,0.93,1.01,1.14,0.9,1.05,0.97,1.11,0.92,1.03,0.88,1.09,0.96,1.13,1.0,0.94,1.06,0.91,1.12,0.98,
0.95,1.09,0.89,1.04,1.12,0.97,1.02,0.91,1.1,0.94,1.07,1.0,0.88,1.13,0.96,1.05,0.92,1.11,0.99,1.03,
1.12,0.9,1.06,0.98,1.03,0.93,1.14,0.89,1.08,1.01,0.95,1.1,0.92,1.04,0.97,1.13,0.88,1.07,1.0,0.94,
1.0,1.11,0.94,1.06,0.89,1.02,0.97,1.12,0.91,1.08,0.95,1.03,0.88,1.1,0.99,1.14,0.93,1.05,0.9,1.09,
0.92,1.04,1.13,0.96,1.08,0.88,1.01,0.94,1.11,0.99,1.06,0.9,1.14,0.97,1.03,0.91,1.09,0.95,1.12,1.0,
1.06,0.9,1.1,0.97,1.02,0.93,1.13,0.88,1.08,1.0,0.95,1.11,0.91,1.04,0.98,1.14,0.92,1.07,0.96,1.01,
0.93,1.12,0.87,1.05,0.98,1.1,0.9,1.15,0.95,1.02,0.86,1.08,1.0,0.92,1.13,0.96,1.04,0.88,1.11,0.97,
1.08,0.89,1.03,0.95,1.14,0.86,1.0,1.1,0.92,1.06,0.97,0.85,1.12,0.94,1.04,0.88,1.15,0.99,0.9,1.07,
0.96,1.11,0.87,1.04,0.93,1.13,0.98,0.85,1.08,1.01,0.9,1.14,0.95,1.06,0.86,1.1,0.99,0.92,1.12,1.03,
1.05,0.88,1.12,0.96,1.02,0.85,1.09,0.93,1.15,0.99,0.87,1.06,0.94,1.11,0.89,1.03,0.97,1.13,0.86,1.08,
0.95,1.1,0.9,1.04];

// ---- K2VARCAT (from 2240.5) ----
const vcBlack=[
0.86,1.18,1.0,0.87,1.14,0.93,0.85,1.19,0.97,1.08,0.86,1.16,
0.91,0.85,1.19,1.04,0.88,1.13,0.86,0.96,1.17,0.86,1.09,0.97,0.85,1.15,1.01,0.87,1.18,0.92,0.85,1.12,
1.06,0.84,1.17,0.95,0.87,1.14,1.01,0.87,1.18,0.92,0.85,1.12,1.04,0.86,1.19,0.95,0.87,1.13,1.0,0.85,
1.18,0.9,0.85,1.13,1.04,0.86,1.16,0.95,0.85,1.19,1.01,0.87,1.15,0.91,0.84,1.17,1.07,0.86,1.12,0.93,
0.85,1.18,0.99,0.86,1.13,1.05,0.84,1.19,0.93,0.85,1.11,1.17,0.96,0.86,1.2,1.02,0.87,1.14,0.9,1.08,
0.84,1.17,0.96,0.86,1.12,1.03,0.84,1.19,0.92,1.07,0.85,1.15,0.99,0.84,1.18,0.9,1.09,0.85,1.04,1.16,
0.86,1.14,0.95,0.85,1.18,1.0,0.84,1.11,0.89,1.19,0.85,1.06,1.17,0.93,0.84,1.13,1.02,0.85,1.18,0.97,
0.84,1.2,1.05,0.86,1.15,0.92,0.84,1.19,0.98,1.09,0.85,1.17,0.9,0.84,1.2,1.06,0.87,1.14,0.85,1.0,
1.17,0.85,1.08,0.95,0.84,1.19,1.02,0.86,1.14,0.9,0.84,1.18,1.05,0.87,1.2,0.97,0.85,1.12,0.93,1.17,
0.85,1.01,1.19,0.84,1.09,0.94,1.2,0.85,1.04,0.84,1.15,0.97,0.88,1.19,0.84,1.07,1.13,0.92,0.85,1.17,
1.0,0.84,1.17,0.95,1.2,0.86,1.08,0.84,1.14,0.99,0.85,1.18,0.9,1.05,0.84,1.2,0.94,1.1,0.85,1.17,
0.84,1.12,0.97,1.19,0.86,1.04,0.84,1.16,0.91,1.09,0.85,1.2,1.0,0.86,1.15,0.84,1.07,0.93,1.18,0.85,
1.1,0.86,1.2,0.95];
const vcBlue=[
1.12,0.83,1.05,0.79,1.19,0.9,1.08,0.84,1.21,0.96,1.02,0.82,
1.16,0.88,1.0,1.2,0.83,1.07,0.93,1.18,0.85,1.11,0.98,0.81,1.15,0.9,1.21,0.86,1.03,0.95,1.17,0.84,
1.09,0.92,1.2,0.79,1.13,0.99,0.86,1.17,1.04,0.82,1.22,0.94,1.07,0.85,1.15,0.97,0.83,1.19,1.01,0.88,
1.12,0.84,1.05,1.2,0.9,0.82,1.16,0.97,1.09,0.85,1.21,0.93,0.78,1.14,1.02,0.87,1.18,0.91,1.06,0.83,
1.17,0.95,0.84,1.2,1.03,0.88,1.13,0.82,1.08,1.21,0.92,0.85,1.16,0.99,1.1,0.83,1.19,0.94,1.05,0.86,
1.14,0.9,1.2,0.83,1.07,0.97,1.17,0.85,1.11,1.01,0.82,1.21,0.93,1.06,0.86,1.16,0.98,1.19,0.84,1.09,
0.95,1.18,0.83,1.12,1.03,0.87,1.22,0.91,1.08,0.84,1.15,1.0,0.82,1.2,0.96,1.1,0.85,1.17,0.92,1.04,
1.19,0.84,1.06,0.95,1.21,0.81,1.13,0.9,1.02,1.18,0.86,0.77,1.24,0.93,1.09,0.83,1.16,0.99,1.2,0.87,
1.05,0.82,1.17,0.94,1.11,0.85,1.22,0.98,0.8,1.14,1.03,0.88,1.19,0.91,1.07,0.83,1.21,0.96,1.12,0.86,
0.93,1.18,0.81,1.09,1.23,0.87,1.01,0.79,1.16,0.95,1.25,0.84,1.1,0.78,1.19,0.9,1.04,0.8,1.14,0.97,
1.21,0.83,1.07,0.92,1.18,0.81,1.13,0.98,1.24,0.86,1.03,0.79,1.17,0.91,1.1,0.82,1.22,0.95,1.06,0.84,
1.15,0.89,1.2,0.82,1.08,0.96,1.18,0.79,1.12,1.01,0.85,1.23,0.93,1.17,0.81,1.06,1.21,0.88,1.13,0.97,
0.84,1.22,1.05,0.83];
const vcBlue2=[
1.0,0.91,1.09,0.95,1.13,0.88,1.04,0.98,1.1,0.92,1.06,0.87,
1.12,0.97,1.03,0.89,1.08,0.94,1.15,1.0,0.9,1.06,0.96,1.11,0.88,1.04,0.99,1.14,0.93,1.07,0.91,1.02,
0.95,1.1,0.88,1.05,1.0,1.13,0.92,1.07,0.97,0.87,1.12,1.02,0.94,1.09,0.9,1.15,0.98,1.04,0.89,1.08,
1.06,0.93,1.14,0.98,1.02,0.88,1.1,0.95,1.05,0.9,1.16,1.0,0.92,1.08,0.97,1.12,0.87,1.03,0.96,1.11,
0.9,1.07,1.0,1.12,0.94,1.04,0.88,1.09,0.98,1.15,0.92,1.01,1.1,0.96,1.06,0.89,1.13,0.95,1.03,0.99,
1.09,0.95,1.05,0.88,1.13,0.99,0.92,1.07,1.01,0.9,1.14,0.96,1.03,0.87,1.11,0.94,1.08,1.0,0.91,1.15,
0.98,1.12,0.91,1.04,0.95,1.09,0.88,1.15,1.0,0.93,1.06,0.97,1.13,0.89,1.02,1.1,0.94,1.07,0.9,1.05,
1.11,0.92,1.03,0.97,1.16,0.9,1.08,1.0,0.94,1.13,0.88,1.05,0.98,1.1,0.91,1.04,1.14,0.96,1.07,0.89,
1.0,1.1,0.93,1.06,0.87,1.13,0.97,1.03,0.91,1.15,0.99,1.08,0.89,1.04,0.95,1.11,0.92,1.06,1.01,0.88,
1.07,0.94,1.12,0.9,1.04,0.98,1.15,0.88,1.09,1.01,0.93,1.13,0.96,1.05,0.87,1.1,1.0,0.92,1.14,0.97,
0.93,1.08,0.99,1.14,0.9,1.03,0.96,1.11,0.88,1.06,1.0,1.16,0.94,1.02,0.89,1.09,0.97,1.12,0.91,1.05,
1.1,0.9,1.04,0.97,1.13,0.92,1.07,1.0,0.88,1.14,0.95,1.03,1.09,0.91,1.06,0.98,1.12,0.89,1.05,0.96,
1.02,0.93,1.1,0.99];

// ---- K2P2 (KASOC) ----
const kpA=[
0.84,1.18,1.0,0.83,1.15,0.93,0.81,1.2,0.97,1.08,0.85,1.22,0.91,0.82,1.19,1.04,0.88,1.27,0.84,0.96,
1.19,0.79,1.09,0.97,0.83,1.16,1.01,0.86,1.24,0.92,0.82,1.12,1.06,0.84,1.19,0.95,0.87,1.15,1.0,0.83,
1.2,0.9,0.82,1.13,1.04,0.85,1.17,0.95,0.83,1.21,1.01,0.87,1.15,0.91,0.82,1.19,1.07,0.86,1.12,0.93,
0.83,1.19,0.99,0.85,1.13,1.05,0.82,1.2,0.93,0.84,1.11,1.17,0.96,0.85,1.22,1.02,0.87,1.15,0.9,1.08,
0.82,1.18,0.96,0.85,1.12,1.03,0.83,1.2,0.92,1.07,0.84,1.16,0.99,0.82,1.26,0.9,1.09,0.84,1.04,1.18,
0.84,1.15,0.95,0.83,1.19,1.0,0.82,1.11,0.89,1.2,0.84,1.06,1.17,0.93,0.83,1.13,1.02,0.84,1.19,0.97,
0.82,1.2,1.05,0.85,1.16,0.92,0.78,1.19,0.98,1.09,0.84,1.22,0.9,0.83,1.2,1.06,0.87,1.15,0.84,1.0,
1.18,0.83,1.08,0.95,0.82,1.2,1.02,0.85,1.15,0.9,0.82,1.19,1.05,0.87,1.21,0.97,0.83,1.12,0.93,1.18,
0.83,1.01,1.2,0.82,1.09,0.94,1.29,0.84,1.04,0.82,1.16,0.97,0.88,1.2,0.82,1.07,1.14,0.92,0.83,1.18,
1.0,0.82,1.17,0.95,1.2,0.85,1.08,0.82,1.15,0.99,0.83,1.19,0.9,1.05,0.84,1.21,0.94,1.1,0.85,1.18,
0.83,1.12,0.97,1.2,0.84,1.04,0.82,1.17,0.91,1.09,0.83,1.21,1.0,0.85,1.15,0.82,1.07,0.93,1.19,0.84,
1.1,0.84,1.2,0.95,0.82,1.14,1.02,0.83,1.26,0.89,1.16,0.82,1.06,0.97,1.44,0.83,1.11,0.88,1.18,0.93,
0.83,1.17,0.99,0.84,1.14,1.04,0.82,1.2,0.92,1.08,0.84,1.16,0.96,0.83,1.19,0.9,1.11,0.84,1.03,1.17,
0.82,1.15,0.96,0.84,1.19,1.01,0.83,1.12,0.89,1.2,0.82,1.07,1.17,0.93,0.84,1.2,1.03,0.82,1.18,0.95,
0.84,1.22,1.02,0.86];
const kpB=[
1.13,0.88,1.06,1.19,0.83,0.95,1.16,0.82,1.1,0.99,1.18,0.86,1.04,0.9,0.8,1.12,1.2,0.96,0.84,1.07,
1.17,0.83,1.02,0.93,1.2,0.86,1.09,0.82,1.14,0.98,0.85,1.18,0.91,1.05,0.81,1.15,0.97,1.2,0.84,1.1,
0.92,1.16,0.83,1.07,1.19,0.87,0.98,1.17,0.82,1.11,0.94,1.2,0.85,1.03,0.83,1.14,0.96,1.18,0.86,1.09,
0.9,1.19,0.83,1.02,1.14,0.86,1.2,0.97,0.82,1.1,0.93,1.17,0.84,1.05,0.83,1.21,0.92,1.08,0.82,1.16,
1.0,0.83,1.18,0.93,1.13,0.82,1.06,1.2,0.86,0.97,1.17,0.83,1.09,0.91,1.21,0.85,1.03,0.82,1.19,0.95,
1.12,0.84,1.04,1.19,0.83,0.93,1.17,0.82,1.1,1.0,1.2,0.84,1.06,0.89,0.82,1.14,1.21,0.95,0.84,1.08,
1.18,0.82,1.01,0.92,1.2,0.84,1.09,0.81,1.16,0.98,0.85,1.19,0.9,1.05,0.82,1.14,0.96,1.21,0.84,1.11,
0.91,1.17,0.83,1.07,1.19,0.86,0.97,1.16,0.82,1.11,0.94,1.2,0.84,1.02,0.82,1.14,0.95,1.18,0.85,1.09,
0.89,1.2,0.82,1.03,1.16,0.84,1.25,0.96,0.82,1.1,0.92,1.18,0.83,1.05,0.81,1.2,0.9,1.08,0.82,1.17,
0.99,0.82,1.16,0.9,1.2,0.83,1.05,1.18,0.86,0.95,1.2,0.82,1.1,0.92,1.19,0.85,1.0,0.82,1.17,0.96,
1.12,0.84,0.98,1.2,0.82,1.06,1.17,0.9,0.81,1.11,0.95,1.2,0.84,1.03,0.82,1.19,0.92,1.09,0.83,1.15,
0.88,1.19,0.82,1.04,1.13,0.93,1.27,0.81,1.07,0.86,1.18,0.83,1.1,0.95,1.37,0.78,1.02,0.82,1.16,0.98,
1.18,0.83,1.06,0.82,1.2,0.92,1.11,0.82,1.17,0.97,0.84,1.13,0.87,1.2,0.82,1.05,0.95,1.21,0.84,1.09,
0.86,1.18,0.82,1.04,1.2,0.92,0.84,1.16,0.98,1.2,0.83,1.08,0.82,1.19,0.9,1.12,0.83,1.03,1.2,0.84,
1.13,0.95,1.21,0.84];
const kpC=[
0.97,1.09,0.88,1.04,1.14,0.92,1.01,0.86,1.11,0.95,1.06,0.89,1.16,0.99,0.93,1.08,0.87,1.03,1.13,0.96,
1.05,0.9,1.12,0.97,0.86,1.07,1.0,1.15,0.92,1.03,0.88,1.1,0.95,1.13,0.98,0.87,1.06,0.93,1.16,1.01,
0.91,1.11,0.98,1.04,0.87,1.14,0.94,1.08,1.0,0.89,1.12,0.96,1.05,0.86,1.1,0.99,1.15,0.92,1.03,0.9,
1.13,0.95,1.02,0.88,1.09,0.97,1.16,0.91,1.06,1.0,0.86,1.12,0.94,1.04,0.89,1.11,0.98,1.14,0.93,1.07,
0.88,1.05,0.96,1.13,0.91,1.01,1.1,0.87,1.07,0.99,1.15,0.93,1.03,0.89,1.12,0.97,1.06,0.86,1.09,1.0,
1.1,0.93,1.04,0.87,1.14,0.98,1.02,0.9,1.08,0.95,1.16,0.88,1.05,1.0,0.92,1.12,0.96,1.07,0.89,1.13,
0.95,1.12,0.89,1.06,1.0,1.15,0.92,1.03,0.87,1.09,0.97,1.13,0.9,1.04,0.99,1.11,0.86,1.07,0.94,1.01,
1.08,0.9,1.13,0.96,1.02,0.88,1.11,0.99,1.15,0.93,1.05,0.87,1.1,0.97,1.03,0.91,1.14,0.95,1.06,0.89,
0.99,1.14,0.92,1.04,0.87,1.1,0.96,1.07,1.0,0.9,1.16,0.94,1.02,0.88,1.12,0.98,1.05,0.91,1.09,0.97,
1.12,0.89,1.06,0.95,1.01,1.15,0.9,1.08,0.97,1.03,0.87,1.13,0.93,1.1,0.99,0.88,1.04,1.14,0.96,1.02,
0.92,1.07,1.0,1.13,0.88,1.04,0.95,1.11,0.9,1.06,0.98,1.16,0.93,1.02,0.87,1.09,1.0,1.14,0.91,1.05,
1.03,0.96,1.12,0.88,1.07,0.99,1.15,0.92,1.04,0.86,1.1,0.97,1.13,0.9,1.05,1.0,0.94,1.11,0.87,1.08,
0.97,1.1,0.9,1.05,1.14,0.93,1.02,0.87,1.08,0.99,1.16,0.92,1.04,0.96,1.12,0.88,1.06,1.0,0.91,1.13,
1.06,0.94,1.11,0.89,1.03,0.97,1.15,0.9,1.07,1.0,0.86,1.12,0.95,1.04,0.88,1.1,0.98,1.14,0.92,1.02,
0.96,1.09,0.9,1.05];

// ---- EVEREST ----
const evBlack=[
0.86,1.19,1.0,0.87,1.15,0.93,0.85,1.2,0.97,1.1,0.86,1.18,0.9,0.85,1.2,1.05,0.88,1.16,0.86,0.95,
1.19,0.86,1.1,0.97,0.85,1.17,1.02,0.87,1.2,0.92,0.85,1.13,1.06,0.84,1.19,0.95,0.87,1.16,1.0,0.85,
1.2,0.9,0.85,1.14,1.04,0.86,1.18,0.95,0.85,1.2,1.01,0.87,1.16,0.91,0.84,1.19,1.08,0.86,1.13,0.93,
0.85,1.19,0.99,0.86,1.14,1.06,0.84,1.2,0.93,0.85,1.11,1.18,0.96,0.86,1.2,1.02,0.87,1.15,0.9,1.09,
0.84,1.18,0.96,0.86,1.12,1.03,0.84,1.2,0.92,1.08,0.85,1.16,0.99,0.84,1.19,0.9,1.1,0.85,1.04,1.18,
0.86,1.15,0.95,0.85,1.19,1.0,0.84,1.11,0.89,1.2,0.85,1.06,1.18,0.93,0.84,1.13,1.02,0.85,1.19,0.97,
0.84,1.2,1.05,0.86,1.16,0.92,0.84,1.19,0.98,1.1,0.85,1.18,0.9,0.84,1.2,1.06,0.87,1.15,0.85,1.0,
1.18,0.85,1.09,0.95,0.84,1.19,1.02,0.86,1.15,0.9,0.84,1.18,1.05,0.87,1.2,0.97,0.85,1.12,0.93,1.18,
0.85,1.01,1.19,0.84,1.1,0.94,1.2,0.85,1.04,0.84,1.29,0.97,1.25,1.18,0.84,1.07,1.14,0.92,0.85,1.18,
1.0,0.84,1.17,0.95,1.19,0.86,1.08,0.84,1.15,0.99,0.85,1.18,0.9,1.05,0.84,1.17,0.94,1.1,0.83,1.16,
0.83,1.12,0.97,1.17,0.85,1.04,0.83,1.16,0.91,1.09,0.84,1.17,1.0,0.86,1.14,0.83,1.07,0.93,1.16,0.84,
1.1,0.84,1.17,0.95,0.83,1.13,1.02,0.84,1.16,0.89,1.15,0.83,1.06,0.97,1.44,0.82,1.11,0.88,1.16,0.93,
0.82,1.16,0.99,0.84,1.13,1.04,0.82,1.17,0.92,1.08,0.83,1.15,0.96,0.82,1.16,0.9,1.11,0.81,1.03,1.16,
0.81,1.14,0.96,0.83,1.17,1.01,0.81,1.12,0.89,1.16,0.82,1.07,1.15,0.93,0.8,1.17,1.03,0.81,1.16,0.95,
0.8,1.42,1.02,0.81];
const evBlue=[
1.08,1.02,0.95,1.05,0.92,1.0,0.97,0.9,1.04,0.94,0.99,0.88,1.03,0.93,0.86,1.01,0.96,0.9,1.05,0.83,
0.98,0.91,1.04,0.95,0.7,1.02,0.89,0.97,1.06,0.93,1.0,0.88,1.03,0.96,0.91,1.05,0.99,0.9,1.02,0.94,
1.0,0.93,1.07,0.97,0.91,1.04,1.0,0.94,1.08,0.96,1.02,0.92,1.05,0.98,0.93,1.06,0.99,0.91,1.03,0.96,
1.02,0.92,0.98,1.05,0.9,1.0,0.69,0.94,1.04,0.97,0.91,1.03,0.95,0.99,0.89,1.02,0.93,1.0,0.96,0.9,
1.01,0.94,0.98,0.89,1.03,0.93,0.97,1.02,0.9,0.95,0.72,1.0,0.92,0.96,1.02,0.89,0.98,0.93,1.01,0.95,
0.9,0.99,1.03,0.93,0.97,0.89,1.02,0.95,0.91,1.0,0.96,1.04,0.92,0.98,0.9,1.02,0.94,0.99,0.7,0.96,
1.0,0.93,0.97,1.03,0.9,0.98,1.02,0.94,0.91,1.04,0.97,1.0,0.93,1.05,0.96,0.92,1.02,0.98,1.06,0.94,
1.03,0.97,0.77,1.05,0.95,1.0,1.07,0.93,0.99,1.04,0.96,1.02,0.92,0.98,1.05,0.94,1.0,0.91,0.97,1.03,
0.95,1.01,0.9,0.97,1.03,0.92,0.98,0.94,1.0,0.89,0.96,1.02,0.91,0.95,0.99,0.9,0.96,0.93,0.72,0.98,
0.93,1.0,0.97,0.95,1.02,0.99,1.05,1.01,1.07,1.03,1.1,1.06,1.12,1.08,1.15,1.11,1.13,1.18,1.14,1.2,
1.15,1.22,1.18,1.25,1.2,1.17,1.27,1.22,1.24,1.3,1.21,1.27,1.32,1.24,1.29,1.35,1.23,1.3,1.27,1.33,
1.3,1.24,1.34,1.27,1.22,1.29,1.25,1.2,1.26,1.22,1.17,1.24,1.19,1.15,1.21,1.17,1.12,1.18,1.14,1.1,
1.13,1.08,1.11,1.05,1.14,1.09,1.06,1.12,1.08,1.15,1.07,1.11,1.04,1.13,1.09,1.16,1.1,1.07,1.14,1.11,
1.15,1.1,1.18,1.12,1.09,1.17,1.13,1.2,1.11,1.16,0.77,1.19,1.14,1.1,1.18,1.13,1.21,1.12,1.16,1.1,
1.17,1.12,1.19,1.14];
const evBlue2=[
0.99,1.04,0.91,0.97,1.06,0.93,1.01,0.88,0.95,1.03,0.9,0.98,1.05,0.92,1.0,0.87,0.96,1.02,0.94,0.89,
1.01,0.94,0.88,1.03,0.97,0.91,1.05,0.99,0.92,0.87,1.02,0.95,0.9,1.04,0.97,0.93,0.89,1.0,0.96,1.03,
0.95,1.02,0.9,1.05,0.98,0.92,1.0,1.06,0.94,0.89,1.03,0.97,0.93,1.07,0.99,0.91,1.04,0.95,1.01,0.9,
0.97,1.03,0.91,0.99,0.94,1.06,0.89,1.01,0.96,0.92,1.04,0.88,0.98,1.02,0.93,1.05,0.9,0.97,1.03,0.95,
0.92,1.0,0.96,1.04,0.88,0.98,1.01,0.93,1.05,0.9,0.97,1.02,0.94,0.89,0.99,1.03,0.91,0.96,1.04,0.93,
0.98,0.92,1.0,0.95,1.05,0.91,0.97,1.02,0.88,0.99,1.04,0.93,0.96,1.01,0.9,0.98,1.03,0.92,0.96,1.0,
0.94,1.02,0.9,0.99,1.04,0.93,0.96,1.01,0.89,0.97,1.03,0.92,1.06,0.95,1.0,0.91,0.98,1.04,0.93,1.01,
0.97,1.06,0.99,0.92,1.03,0.97,1.0,0.94,1.05,0.98,0.93,1.07,0.96,1.02,0.95,0.99,1.04,0.97,1.01,0.93,
1.0,0.93,0.97,1.02,0.91,0.99,0.95,1.01,0.93,0.97,0.9,0.94,0.99,0.92,0.96,1.0,0.9,0.95,0.98,0.93,
0.97,0.94,1.0,0.98,1.04,1.0,1.03,1.08,1.04,1.12,1.08,1.1,1.15,1.12,1.17,1.14,1.19,1.16,1.21,1.18,
1.2,1.18,1.23,1.21,1.26,1.22,1.25,1.28,1.26,1.24,1.29,1.27,1.26,1.31,1.28,1.3,1.33,1.29,1.32,1.28,
1.27,1.29,1.26,1.31,1.24,1.25,1.23,1.27,1.21,1.2,1.22,1.18,1.2,1.16,1.17,1.14,1.15,1.13,1.12,1.11,
1.1,1.09,1.12,1.08,1.1,1.06,1.1,1.09,1.11,1.07,1.13,1.1,1.12,1.09,1.14,1.11,1.13,1.12,1.15,1.13,
1.13,1.15,1.14,1.16,1.14,1.13,1.17,1.15,1.16,1.14,1.18,1.16,1.17,1.15,1.19,1.14,1.17,1.15,1.18,1.14,
1.15,1.14,1.16,1.13];

// ---- EAP/EAP-K2SC ----
const eapA=[
0.85,1.16,1.02,0.87,1.13,0.94,0.84,1.17,0.98,1.07,0.86,1.15,0.91,0.85,1.17,1.04,0.88,1.12,0.86,0.96,
1.16,0.86,1.09,0.97,0.84,1.14,1.01,0.87,1.17,0.92,0.85,1.11,1.06,0.84,1.16,0.95,0.87,1.13,1.0,0.85,
1.17,0.9,0.84,1.12,1.04,0.86,1.15,0.95,0.85,1.18,1.01,0.87,1.14,0.91,0.84,1.16,1.07,0.86,1.11,0.93,
0.85,1.16,0.99,0.86,1.12,1.05,0.84,1.17,0.93,0.85,1.1,1.15,0.96,0.86,1.18,1.02,0.87,1.13,0.9,1.08,
0.84,1.15,0.96,0.86,1.11,1.03,0.84,1.17,0.92,1.07,0.85,1.14,0.99,0.84,1.17,0.9,1.09,0.85,1.04,1.15,
0.86,1.13,0.95,0.85,1.16,1.0,0.84,1.1,0.89,1.17,0.85,1.06,1.15,0.93,0.84,1.12,1.02,0.85,1.16,0.97,
0.84,1.18,1.05,0.86,1.14,0.92,0.84,1.17,0.98,1.09,0.85,1.16,0.9,0.84,1.18,1.06,0.87,1.13,0.85,1.0,
1.15,0.85,1.08,0.95,0.84,1.17,1.02,0.86,1.13,0.9,0.84,1.16,1.05,0.87,1.18,0.97,0.85,1.11,0.93,1.16,
0.86,1.01,1.17,0.84,1.09,0.94,1.18,0.85,1.04,0.84,1.14,0.97,0.88,1.17,0.84,1.07,1.12,0.92,0.85,1.16,
1.0,0.84,1.15,0.95,1.18,0.86,1.08,0.84,1.13,0.99,0.85,1.17,0.9,1.05,0.84,1.19,0.94,1.1,0.85,1.16,
0.84,1.12,0.97,1.18,0.86,1.04,0.84,1.15,0.91,1.09,0.85,1.19,1.0,0.86,1.14,0.84,1.07,0.93,1.17,0.85,
1.1,0.86,1.19,0.95,0.84,1.13,1.02,0.85,1.2,0.89,1.15,0.84,1.06,0.97,1.18,0.85,1.11,0.88,1.17,0.93,
0.84,1.16,0.99,0.86,1.13,1.04,0.84,1.18,0.92,1.08,0.86,1.15,0.96,0.84,1.17,0.9,1.11,0.85,1.03,1.16,
0.85,1.14,0.96,0.84,1.17,1.01,0.86,1.12,0.89,1.18,0.84,1.07,1.16,0.93,0.85,1.2,1.03,0.84,1.17,0.95,
0.85,1.19,1.02,0.86];
const eapB=[
1.12,0.87,1.05,1.17,0.84,0.95,1.14,0.86,1.09,0.99,1.16,0.85,1.03,0.9,0.84,1.12,1.17,0.96,0.87,1.07,
1.15,0.84,1.02,0.93,1.17,0.86,1.09,0.85,1.13,0.97,0.88,1.16,0.91,1.05,0.84,1.14,0.97,1.18,0.86,1.1,
0.92,1.14,0.85,1.07,1.17,0.88,0.98,1.15,0.84,1.11,0.94,1.17,0.86,1.03,0.85,1.13,0.96,1.16,0.87,1.09,
0.9,1.17,0.85,1.02,1.13,0.87,1.18,0.97,0.84,1.1,0.93,1.15,0.86,1.05,0.85,1.17,0.92,1.08,0.84,1.14,
1.0,0.85,1.16,0.93,1.12,0.84,1.06,1.18,0.87,0.97,1.15,0.85,1.09,0.91,1.17,0.86,1.03,0.84,1.16,0.95,
1.12,0.86,1.04,1.17,0.85,0.93,1.15,0.84,1.1,1.0,1.18,0.85,1.06,0.89,0.84,1.13,1.17,0.95,0.85,1.08,
1.16,0.84,1.01,0.92,1.18,0.86,1.09,0.85,1.14,0.98,0.87,1.17,0.9,1.05,0.84,1.13,0.96,1.18,0.86,1.11,
0.91,1.15,0.85,1.07,1.17,0.87,0.97,1.14,0.84,1.11,0.94,1.18,0.85,1.02,0.84,1.13,0.95,1.16,0.86,1.09,
0.89,1.17,0.84,1.03,1.14,0.86,1.18,0.96,0.84,1.1,0.92,1.16,0.85,1.05,0.84,1.18,0.9,1.08,0.85,1.15,
0.99,0.84,1.14,0.9,1.18,0.85,1.05,1.16,0.87,0.95,1.18,0.84,1.1,0.92,1.17,0.86,1.0,0.84,1.15,0.96,
1.12,0.85,0.98,1.19,0.84,1.06,1.15,0.9,0.84,1.11,0.95,1.18,0.86,1.03,0.84,1.17,0.92,1.09,0.85,1.13,
0.88,1.17,0.84,1.04,1.12,0.93,1.2,0.85,1.07,0.87,1.16,0.84,1.1,0.95,1.19,0.85,1.02,0.84,1.14,0.98,
1.16,0.85,1.06,0.84,1.18,0.92,1.11,0.84,1.15,0.97,0.85,1.13,0.87,1.18,0.84,1.05,0.95,1.17,0.85,1.09,
0.87,1.16,0.84,1.04,1.18,0.92,0.85,1.14,0.98,1.19,0.85,1.08,0.84,1.17,0.9,1.12,0.84,1.03,1.18,0.86,
1.12,0.95,1.2,0.85];
const eapC=[
0.98,1.1,0.9,1.04,0.94,1.13,0.88,1.01,1.07,0.92,1.11,0.96,1.03,0.89,1.09,0.99,1.14,0.93,1.05,0.9,
1.08,0.95,1.12,0.89,1.02,0.97,1.1,0.91,1.06,0.88,1.13,1.0,0.94,1.07,0.9,1.11,0.96,1.04,0.92,1.09,
0.93,1.06,0.99,1.13,0.9,1.03,0.95,1.1,0.88,1.08,1.01,0.92,1.12,0.97,1.05,0.89,1.09,0.94,1.14,1.0,
1.05,0.91,1.11,0.96,1.02,0.88,1.08,0.99,1.13,0.93,1.04,0.9,1.1,0.95,1.07,0.89,1.12,1.0,0.92,1.06,
0.89,1.12,0.97,1.05,0.92,1.09,1.0,0.88,1.13,0.95,1.03,0.91,1.1,0.98,1.06,0.9,1.14,0.94,1.01,1.08,
1.02,0.9,1.07,0.94,1.13,0.98,1.04,0.89,1.1,0.93,1.08,1.0,0.91,1.12,0.96,1.05,0.88,1.11,0.99,0.93,
1.11,0.95,1.03,0.89,1.08,1.0,0.92,1.13,0.97,1.06,0.9,1.1,0.94,1.02,0.88,1.09,0.98,1.14,0.91,1.04,
0.96,1.09,0.9,1.05,0.99,1.12,0.93,1.01,0.88,1.07,0.95,1.13,1.0,0.91,1.1,0.97,1.04,0.89,1.08,0.94,
1.07,0.92,1.12,0.98,1.03,0.89,1.1,0.95,1.06,0.9,1.14,1.01,0.93,1.08,0.96,1.11,0.88,1.04,0.99,1.13,
0.94,1.06,1.0,0.9,1.11,0.96,1.04,0.88,1.09,0.93,1.13,0.98,1.02,0.91,1.07,0.95,1.12,0.89,1.05,1.0,
1.1,0.93,1.05,0.97,1.13,0.9,1.01,1.08,0.94,1.12,0.89,1.03,0.96,1.09,0.92,1.14,0.99,1.06,0.88,1.02,
0.97,1.11,0.91,1.04,0.95,1.09,0.88,1.13,1.0,0.93,1.07,0.98,1.12,0.9,1.05,0.96,1.1,0.92,1.03,1.08,
1.04,0.9,1.1,0.95,1.06,0.99,1.13,0.92,1.01,0.88,1.08,0.96,1.12,0.93,1.02,0.9,1.09,0.97,1.14,0.94,
0.91,1.07,0.98,1.12,0.94,1.03,0.89,1.1,0.96,1.05,0.92,1.13,1.0,0.9,1.08,0.95,1.11,0.88,1.04,0.99,
1.09,0.93,1.06,0.97];

// ---- panel definitions ----
const FONT='"Liberation Sans", Arial, Helvetica, sans-serif';
const colLeft=[32,308,584], rowTop=[24,163,301], rowH=[98,98,97], plotW=231;
const panels=[
 {t:'SAP (Simple Aperture Photometry)',c:0,r:0,ymin:0,ymax:1.6,yt:yTicksSAP,rad:1.7,sets:[[sapA,2228.5,'#006400'],[sapB,2228.5,'#006400'],[sapC,2228.5,'#006400']]},
 {t:'PDCSAP',c:1,r:0,ymin:0.6,ymax:1.4,yt:yTicksStd,rad:1.7,sets:[[pdcA,2228.5,'#ee82ee'],[pdcB,2228.5,'#ee82ee'],[pdcC,2228.5,'#ee82ee']]},
 {t:'K2SFF',c:2,r:0,ymin:0.6,ymax:1.5,yt:yTicksStd,rad:1.7,sets:[[sffRed,2230.5,'#e3170d'],[sffRed2,2230.5,'#e3170d'],[sffBlack,2230.5,'#404040']]},
 {t:'SAP-K2SC',c:0,r:1,ymin:0.6,ymax:1.4,yt:yTicksStd,rad:1.7,sets:[[skA,2228.5,'#a4a4a4'],[skB,2228.5,'#a4a4a4'],[skC,2228.5,'#a4a4a4']]},
 {t:'PDCSAP-K2SC',c:1,r:1,ymin:0.6,ymax:1.4,yt:yTicksStd,rad:1.7,sets:[[pkA,2228.5,'#a3b5cf'],[pkB,2228.5,'#a3b5cf'],[pkC,2228.5,'#a3b5cf']]},
 {t:'K2VARCAT',c:2,r:1,ymin:0.6,ymax:1.4,yt:yTicksStd,rad:1.7,sets:[[vcBlue,2240.5,'#1b77b3'],[vcBlue2,2240.5,'#1b77b3'],[vcBlack,2240.5,'#3a3a3a']]},
 {t:'K2P\u00B2 (KASOC)',c:0,r:2,ymin:0.6,ymax:1.5,yt:yTicksStd,rad:1.8,sets:[[kpA,2228.5,'#000000'],[kpB,2228.5,'#000000'],[kpC,2228.5,'#000000']]},
 {t:'EVEREST',c:1,r:2,ymin:0.6,ymax:1.5,yt:yTicksStd,rad:[1.8,1.8,1.5],sets:[[evBlue,2228.5,'#5ab4e6'],[evBlue2,2228.5,'#5ab4e6'],[evBlack,2228.5,'#383838']]},
 {t:'EAP/EAP-K2SC',c:2,r:2,ymin:0.6,ymax:1.5,yt:yTicksStd,rad:1.7,sets:[[eapA,2228.5,'#a0522d'],[eapB,2228.5,'#a0522d'],[eapC,2228.5,'#a0522d']]}
];

function pts(vals,start){
  const o=days.indexOf(start);const out=[];
  for(let i=0;i<vals.length&&o+i<days.length;i++) out.push({x:days[o+i],y:vals[i]});
  return out;
}

const framePlugin={
  id:'gframe',
  afterDraw(chart,args,opts){
    const {ctx,chartArea:a,scales:{x,y}}=chart;
    ctx.save();
    ctx.strokeStyle='#8a8a8a';ctx.lineWidth=1;
    ctx.strokeRect(Math.round(a.left)+0.5,Math.round(a.top)+0.5,Math.round(a.right-a.left)-1,Math.round(a.bottom-a.top)-1);
    ctx.beginPath();
    const xt=(v,len)=>{const p=Math.round(x.getPixelForValue(v))+0.5;ctx.moveTo(p,a.bottom);ctx.lineTo(p,a.bottom-len);ctx.moveTo(p,a.top);ctx.lineTo(p,a.top+len);};
    const yt=(v,len)=>{const p=Math.round(y.getPixelForValue(v))+0.5;ctx.moveTo(a.left,p);ctx.lineTo(a.left+len,p);ctx.moveTo(a.right,p);ctx.lineTo(a.right-len,p);};
    for(let v=2226;v<=2304;v+=2){ if(v%10===0) xt(v,4); else xt(v,2); }
    const ymn=opts.ymin, ymx=opts.ymax;
    for(let k=Math.round(ymn*10);k<=Math.round(ymx*10);k++){ const v=k/10; if(v<=ymn+1e-9||v>=ymx-1e-9) continue; if(k%2===0) yt(v,4); else yt(v,2); }
    ctx.stroke();
    ctx.fillStyle='#222';ctx.font='8.5px '+FONT;ctx.textAlign='center';ctx.textBaseline='middle';
    ctx.fillText(opts.title,(a.left+a.right)/2,a.top-11);
    ctx.restore();
  }
};

const wrap=document.getElementById('wrap');
panels.forEach((p,i)=>{
  const W=32+plotW+6, H=24+rowH[p.r]+16;
  const div=document.createElement('div');div.className='pane';
  div.style.left=(colLeft[p.c]-32)+'px';div.style.top=(rowTop[p.r]-24)+'px';
  div.style.width=W+'px';div.style.height=H+'px';
  const cv=document.createElement('canvas');cv.width=W;cv.height=H;cv.style.width=W+'px';cv.style.height=H+'px';
  div.appendChild(cv);wrap.appendChild(div);
  const datasets=p.sets.map((s,j)=>({data:pts(s[0],s[1]),backgroundColor:s[2],borderWidth:0,
    pointRadius:Array.isArray(p.rad)?p.rad[j]:p.rad,pointStyle:'circle'}));
  new Chart(cv,{
    type:'scatter',
    data:{datasets},
    plugins:[framePlugin],
    options:{
      responsive:false,animation:false,events:[],devicePixelRatio:1,
      layout:{padding:{top:24,right:6,left:0,bottom:0}},
      plugins:{legend:{display:false},tooltip:{enabled:false},gframe:{title:p.t,ymin:p.ymin,ymax:p.ymax}},
      scales:{
        x:{type:'linear',min:2225,max:2304,
           grid:{display:false,drawTicks:false},border:{display:false},
           ticks:{padding:4,color:'#333',font:{size:8.5,family:FONT},maxRotation:0,autoSkip:false,callback:v=>String(v)},
           afterBuildTicks:s=>{s.ticks=xTicks.map(v=>({value:v}));},
           afterFit:s=>{s.height=16;}},
        y:{type:'linear',min:p.ymin,max:p.ymax,
           grid:{display:false,drawTicks:false},border:{display:false},
           ticks:{padding:5,color:'#333',font:{size:8.5,family:FONT},autoSkip:false,callback:v=>String(+Number(v).toFixed(1))},
           afterBuildTicks:s=>{s.ticks=p.yt.map(v=>({value:v}));},
           afterFit:s=>{s.width=32;}}
      }
    }
  });
});
</script>
</body></html>
